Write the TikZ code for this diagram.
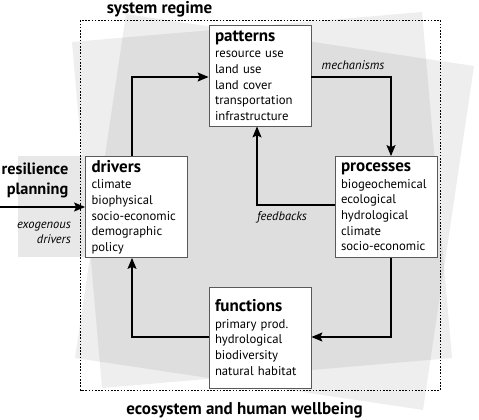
\documentclass[tikz,border=0pt]{standalone}
\usepackage{fontspec}
\setmainfont{PT Sans}
\usetikzlibrary{arrows.meta}
\tikzset{
  sq/.style={fill=black, fill opacity=0.065, draw=none},
  box/.style={draw=black!65, line width=0.8pt, fill=white, minimum width=102pt, minimum height=101pt,
    text width=90pt, align=left, inner sep=0pt, font=\fontsize{12.7}{15.6}\selectfont},
  arr/.style={line width=1.3pt, -{Stealth[length=11pt,width=9pt,inset=2pt]}},
  lbl/.style={font=\fontsize{12.5}{15}\selectfont\itshape, inner sep=0pt},
  ttl/.style={font=\fontsize{17}{18}\selectfont\bfseries, inner sep=0pt},
}
\newcommand{\hd}[1]{{\fontsize{17}{17}\selectfont\bfseries #1}\\[1pt]}
\begin{document}
\begin{tikzpicture}[x=1pt,y=-1pt]
\useasboundingbox (0,0) rectangle (479,420);
% background squares
\fill[sq] (72,42) -- (422,12) -- (452,358) -- (102,388) -- cycle;
\fill[sq] (126,14) -- (474,66) -- (423,410) -- (75,358) -- cycle;
\fill[black!9] (18,156) rectangle (86,257);
% dotted regime frame
\draw[line width=0.6pt, dash pattern=on 1.6pt off 1.6pt] (80.5,20.5) rectangle (440.5,390);
\node[ttl] (sr) at (159.5,9) {system regime};
\node[ttl] (ew) at (244.5,410) {ecosystem and human wellbeing};
% boxes
\node[box] (pat) at (260,75.5) {\hd{patterns}resource use\\land use\\land cover\\transportation\\infrastructure};
\node[box] (drv) at (136.5,207) {\hd{drivers}climate\\biophysical\\socio-economic\\demographic\\policy};
\node[box] (pro) at (386,207) {\hd{processes}biogeochemical\\ecological\\hydrological\\climate\\socio-economic};
\node[box] (fun) at (260,337.5) {\hd{functions}primary prod.\\hydrological\\biodiversity\\natural habitat};
% connector coordinates
\coordinate (c1) at (132,77);
\coordinate (c2) at (391,77);
\coordinate (c3) at (257,205);
\coordinate (c4) at (391,337);
\coordinate (c5) at (132,337);
\coordinate (in) at (0,207);
\draw[arr] (drv.north -| c1) |- (pat.west |- c1);
\draw[arr] (pat.east |- c2) -| (pro.north -| c2);
\draw[arr] (pro.west |- c3) -| (pat.south -| c3);
\draw[arr] (pro.south -| c4) |- (fun.east |- c4);
\draw[arr] (fun.west |- c5) -| (drv.south -| c5);
\draw[arr] (in) -- (drv.west |- in);
% labels
\node[lbl] (mech) at (353,65) {mechanisms};
\node[lbl] (feed) at (282,217) {feedbacks};
\node[ttl, align=right, anchor=east, font=\fontsize{16.3}{20}\selectfont\bfseries] (res) at (68.5,180) {resilience\\planning};
\node[lbl, align=right, anchor=east] (exo) at (71,232.5) {exogenous\\drivers};
\end{tikzpicture}
\end{document}
